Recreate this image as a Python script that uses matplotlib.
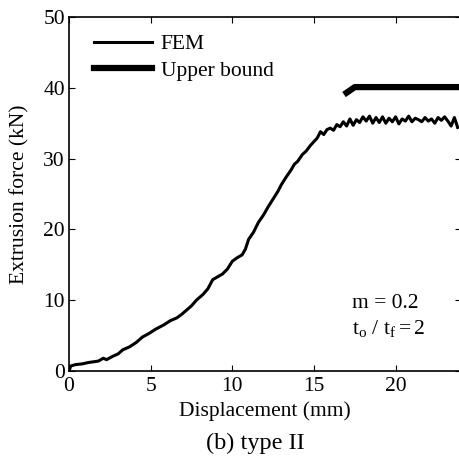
import matplotlib
matplotlib.use('Agg')
import matplotlib.pyplot as plt

plt.rcParams['font.family'] = ['Liberation Serif', 'DejaVu Serif']
plt.rcParams['mathtext.fontset'] = 'custom'
plt.rcParams['mathtext.rm'] = 'Liberation Serif'
plt.rcParams['mathtext.it'] = 'Liberation Serif'

# FEM curve (displacement mm, force kN)
fem_x = [0.0, 0.05, 0.1, 0.4, 0.8, 1.2, 1.5, 1.8, 2.1, 2.3, 2.7, 3.0, 3.3, 3.7,
         4.1, 4.5, 4.9, 5.3, 5.8, 6.2, 6.6, 6.9, 7.2, 7.5, 7.8, 8.0, 8.2, 8.5,
         8.8, 9.1, 9.4, 9.7, 10.0, 10.3, 10.6, 10.8, 11.0, 11.3, 11.6, 11.9,
         12.2, 12.5, 12.8, 13.0, 13.3, 13.6, 13.8, 14.0, 14.3, 14.5, 14.8,
         15.0, 15.2, 15.4, 15.6, 15.8, 16.0, 16.2, 16.4, 16.6, 16.8, 17.0,
         17.2, 17.4, 17.6, 17.8, 18.0, 18.2, 18.4, 18.6, 18.8, 19.0, 19.2,
         19.4, 19.6, 19.8, 20.0, 20.2, 20.4, 20.6, 20.8, 21.0, 21.2, 21.4,
         21.6, 21.8, 22.0, 22.2, 22.4, 22.6, 22.8, 23.0, 23.2, 23.4, 23.6, 23.8]
fem_y = [0.0, 0.3, 0.7, 0.9, 1.0, 1.2, 1.3, 1.4, 1.8, 1.6, 2.1, 2.4, 3.0, 3.4,
         4.0, 4.8, 5.3, 5.9, 6.5, 7.1, 7.5, 8.0, 8.6, 9.2, 10.0, 10.4, 10.8, 11.6,
         12.9, 13.3, 13.7, 14.4, 15.5, 16.0, 16.4, 17.2, 18.6, 19.6, 21.0, 22.0,
         23.2, 24.3, 25.4, 26.3, 27.4, 28.4, 29.2, 29.6, 30.6, 31.0, 31.9,
         32.4, 32.9, 33.8, 33.4, 34.1, 34.3, 34.0, 34.8, 34.5, 35.2, 34.6,
         35.6, 34.7, 35.5, 35.1, 35.9, 35.3, 36.0, 35.0, 35.8, 35.1, 35.9,
         35.0, 35.7, 35.2, 35.9, 34.9, 35.6, 35.3, 36.0, 35.2, 35.7, 35.5,
         35.2, 35.8, 35.3, 35.6, 35.0, 35.8, 35.4, 35.9, 35.3, 34.6, 35.8, 34.4]

# Upper bound
ub_x = [17.0, 17.5, 24.0]
ub_y = [39.3, 40.1, 40.1]

fig = plt.figure(figsize=(4.6, 4.67), dpi=100)
ax = fig.add_axes([0.15, 0.2056, 0.852, 0.758])

ax.plot(fem_x, fem_y, color='black', linewidth=2.2, label='FEM')
ax.plot(ub_x, ub_y, color='black', linewidth=4.5, label='Upper bound')

ax.set_xlim(0, 24)
ax.set_ylim(0, 50)
ax.set_xticks([0, 5, 10, 15, 20])
ax.set_yticks([0, 10, 20, 30, 40, 50])
ax.tick_params(direction='in', top=True, right=True, labelsize=15.5, length=4)
ax.tick_params(axis='x', pad=4)
ax.tick_params(axis='y', pad=3)
for s in ax.spines.values():
    s.set_linewidth(1.2)

ax.set_xlabel('Displacement (mm)', fontsize=15.5, labelpad=4)
ax.set_ylabel('Extrusion force (kN)', fontsize=15.5, labelpad=10)

ax.legend(loc='upper left', frameon=False, fontsize=15.5, handlelength=2.7,
          handletextpad=0.4, labelspacing=0.3, borderaxespad=0.4,
          bbox_to_anchor=(0.02, 1.0))

ax.text(17.3, 9.6, 'm = 0.2', fontsize=15.5, va='center')
ax.text(17.3, 6.0, r'$\mathrm{t_o\ /\ t_f = 2}$', fontsize=15.5, va='center')

fig.text(0.554, 0.051, '(b) type II', ha='center', va='center', fontsize=17.5)

fig.savefig('out.png', dpi=100)
